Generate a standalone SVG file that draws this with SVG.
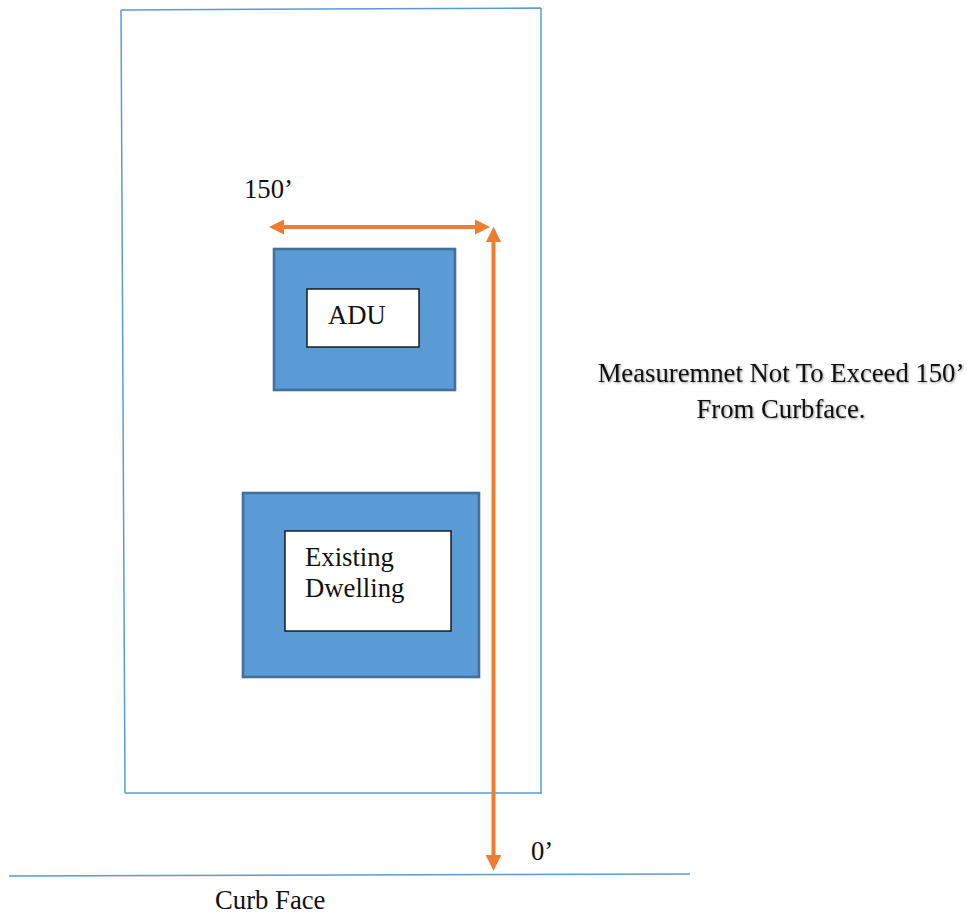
<svg xmlns="http://www.w3.org/2000/svg" width="967" height="915" viewBox="0 0 967 915">
<style>
.t{font-family:"Liberation Serif","Times New Roman",serif;font-size:26.7px;fill:#111}
.s{filter:drop-shadow(1px 1px 1px #999)}
.lot{stroke:#5b9bd5;stroke-width:1.5;fill:none}
.out{fill:#5b9bd5;stroke:#41719c;stroke-width:2.6}
.in{fill:#fff;stroke:#111;stroke-width:1.4}
.arr{stroke:#ed7d31;stroke-width:4;fill:none;marker-start:url(#a);marker-end:url(#a)}
</style>
<defs><marker id="a" viewBox="0 0 10 10" refX="7" refY="5" markerWidth="3.9" markerHeight="3.9" orient="auto-start-reverse"><path d="M0 0L10 5L0 10z" fill="#ed7d31"/></marker></defs>
<rect width="967" height="915" fill="#fff"/>
<g id="connectors">
<path class="lot" d="M121 10L541 8M121 10L125 793M541 8V794M125 793H541"/>
<path class="lot" d="M9 876L690 874"/>
<path class="arr" d="M273.5 227H485.5"/>
<path class="arr" d="M493.5 231.5V866"/>
</g>
<g id="adu"><rect class="out" x="274" y="249" width="181" height="141"/><rect class="in" x="307" y="289" width="112" height="58"/><text class="t" x="328" y="324">ADU</text></g>
<g id="dwelling"><rect class="out" x="243" y="493" width="236" height="184"/><rect class="in" x="285" y="531" width="166" height="100"/><text class="t" x="305" y="566">Existing</text><text class="t" x="305" y="597">Dwelling</text></g>
<g id="labels">
<text class="t" x="244" y="198">150’</text>
<g class="s"><text class="t" x="781" y="382" text-anchor="middle">Measuremnet Not To Exceed 150’</text>
<text class="t" x="781" y="417.5" text-anchor="middle">From Curbface.</text></g>
<text class="t" x="531" y="860">0’</text>
<text class="t" x="215" y="909">Curb Face</text>
</g>
</svg>
